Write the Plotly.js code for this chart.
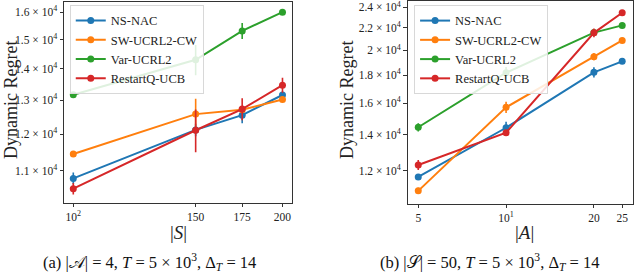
<!DOCTYPE html>
<html>
<head>
<meta charset="utf-8">
<script src="https://cdn.plot.ly/plotly-3.0.1.min.js"></script>
<style>html,body{margin:0;padding:0;background:#fff;}#plot{width:640px;height:276px;}</style>
</head>
<body>
<div id="plot"></div>
<script>
// ---- Data: panel (a), varying |S| ----
const sizesS = [100, 150, 175, 200];
const nsnacA = [10810, 12120, 12550, 13160];
const nsnacAErr = [150, 180, 240, 100];
const swA = [11450, 12580, 12710, 13020];
const swAErr = [60, 465, 80, 80];
const varA = [13170, 14300, 15310, 16000];
const varAErr = [60, 510, 290, 60];
const rqA = [10550, 12110, 12730, 13470];
const rqAErr = [145, 610, 330, 240];

// ---- Data: panel (b), varying |A| ----
const sizesA = [5, 10, 20, 25];
const nsnacB = [11700, 14410, 18220, 19090];
const nsnacBErr = [150, 370, 390, 150];
const swB = [11030, 15710, 19470, 20860];
const swBErr = [150, 370, 300, 120];
const varB = [14440, 18190, 21560, 22230];
const varBErr = [250, 450, 300, 150];
const rqB = [12310, 14110, 21540, 23450];
const rqBErr = [260, 150, 400, 150];

const seriesNames = ['NS-NAC', 'SW-UCRL2-CW', 'Var-UCRL2', 'RestartQ-UCB'];
const colors = ['#1f77b4', '#ff7f0e', '#2ca02c', '#d62728'];

const xTickValsA = [100, 150, 175, 200];
const xTickTextA = ['10<sup>2</sup>', '150', '175', '200'];
const yTickValsA = [11000, 12000, 13000, 14000, 15000, 16000];
const yTickTextA = ['1.1 × 10<sup>4</sup>', '1.2 × 10<sup>4</sup>', '1.3 × 10<sup>4</sup>', '1.4 × 10<sup>4</sup>', '1.5 × 10<sup>4</sup>', '1.6 × 10<sup>4</sup>'];
const xTickValsB = [5, 10, 20, 25];
const xTickTextB = ['5', '10<sup>1</sup>', '20', '25'];
const yTickValsB = [12000, 14000, 16000, 18000, 20000, 22000, 24000];
const yTickTextB = ['1.2 × 10<sup>4</sup>', '1.4 × 10<sup>4</sup>', '1.6 × 10<sup>4</sup>', '1.8 × 10<sup>4</sup>', '2 × 10<sup>4</sup>', '2.2 × 10<sup>4</sup>', '2.4 × 10<sup>4</sup>'];

const panelA = [[nsnacA, nsnacAErr], [swA, swAErr], [varA, varAErr], [rqA, rqAErr]];
const panelB = [[nsnacB, nsnacBErr], [swB, swBErr], [varB, varBErr], [rqB, rqBErr]];

const serif = 'Liberation Serif, DejaVu Serif, serif';
const traces = [];
panelA.forEach((s, i) => {
  traces.push({
    x: sizesS, y: s[0], name: seriesNames[i], type: 'scatter', mode: 'lines+markers',
    xaxis: 'x', yaxis: 'y', legend: 'legend',
    line: {color: colors[i], width: 2}, marker: {color: colors[i], size: 7},
    error_y: {type: 'data', array: s[1], visible: true, width: 0, thickness: 1.6, color: colors[i]}
  });
});
panelB.forEach((s, i) => {
  traces.push({
    x: sizesA, y: s[0], name: seriesNames[i], type: 'scatter', mode: 'lines+markers',
    xaxis: 'x2', yaxis: 'y2', legend: 'legend2',
    line: {color: colors[i], width: 2}, marker: {color: colors[i], size: 7},
    error_y: {type: 'data', array: s[1], visible: true, width: 0, thickness: 1.6, color: colors[i]}
  });
});

const axBase = {
  type: 'log', showgrid: false, zeroline: false, showline: true, mirror: true,
  linecolor: '#333', linewidth: 1, ticks: 'outside', ticklen: 3.5, tickcolor: '#333',
  tickfont: {family: serif, size: 11.5, color: '#222'}, tickmode: 'array',
  ticklabeloverflow: 'allow'
};

const legendBase = {xanchor: 'left', yanchor: 'top', bgcolor: 'rgba(255,255,255,0.85)', bordercolor: '#d8d8d8', borderwidth: 1, font: {family: serif, size: 12.5, color: '#222'}, tracegroupgap: 0, itemwidth: 30};

const layout = {
  width: 640, height: 276, margin: {l: 0, r: 0, t: 0, b: 0},
  paper_bgcolor: '#fff', plot_bgcolor: '#fff', showlegend: true,
  font: {family: serif, color: '#222'},
  xaxis: Object.assign({}, axBase, {domain: [0.100, 0.456], range: [Math.log10(96.97), Math.log10(206.3)], tickvals: xTickValsA, ticktext: xTickTextA, anchor: 'y'}),
  yaxis: Object.assign({}, axBase, {domain: [0.2645, 0.9928], range: [Math.log10(10200), Math.log10(16390)], tickvals: yTickValsA, ticktext: yTickTextA, anchor: 'x'}),
  xaxis2: Object.assign({}, axBase, {domain: [0.637, 0.9896], range: [Math.log10(4.60), Math.log10(27.3)], tickvals: xTickValsB, ticktext: xTickTextB, anchor: 'y2'}),
  yaxis2: Object.assign({}, axBase, {domain: [0.261, 0.9964], range: [Math.log10(10435), Math.log10(24650)], tickvals: yTickValsB, ticktext: yTickTextB, anchor: 'x2'}),
  legend: Object.assign({}, legendBase, {x: 0.109, y: 0.982}),
  legend2: Object.assign({}, legendBase, {x: 0.647, y: 0.982}),
  annotations: [
    {text: 'Dynamic Regret', xref: 'paper', yref: 'paper', x: 11 / 640, y: 1 - 100 / 276, textangle: -90, showarrow: false, xanchor: 'center', yanchor: 'middle', font: {family: serif, size: 18, color: '#222'}},
    {text: 'Dynamic Regret', xref: 'paper', yref: 'paper', x: 347 / 640, y: 1 - 100 / 276, textangle: -90, showarrow: false, xanchor: 'center', yanchor: 'middle', font: {family: serif, size: 18, color: '#222'}},
    {text: '|<i>S</i>|', xref: 'paper', yref: 'paper', x: 178 / 640, y: 1 - 232 / 276, showarrow: false, xanchor: 'center', yanchor: 'middle', font: {family: serif, size: 19, color: '#222'}},
    {text: '|<i>A</i>|', xref: 'paper', yref: 'paper', x: 524 / 640, y: 1 - 232 / 276, showarrow: false, xanchor: 'center', yanchor: 'middle', font: {family: serif, size: 19, color: '#222'}},
    {text: '(a) |𝒜| = 4, <i>T</i> = 5 × 10<sup>3</sup>, Δ<sub><i>T</i></sub> = 14', xref: 'paper', yref: 'paper', x: 149 / 640, y: 1 - 262 / 276, showarrow: false, xanchor: 'center', yanchor: 'middle', font: {family: serif, size: 16.5, color: '#111'}},
    {text: '(b) |𝒮| = 50, <i>T</i> = 5 × 10<sup>3</sup>, Δ<sub><i>T</i></sub> = 14', xref: 'paper', yref: 'paper', x: 489 / 640, y: 1 - 262 / 276, showarrow: false, xanchor: 'center', yanchor: 'middle', font: {family: serif, size: 16.5, color: '#111'}}
  ]
};

Plotly.newPlot('plot', traces, layout, {staticPlot: true, displayModeBar: false});
</script>
</body>
</html>
